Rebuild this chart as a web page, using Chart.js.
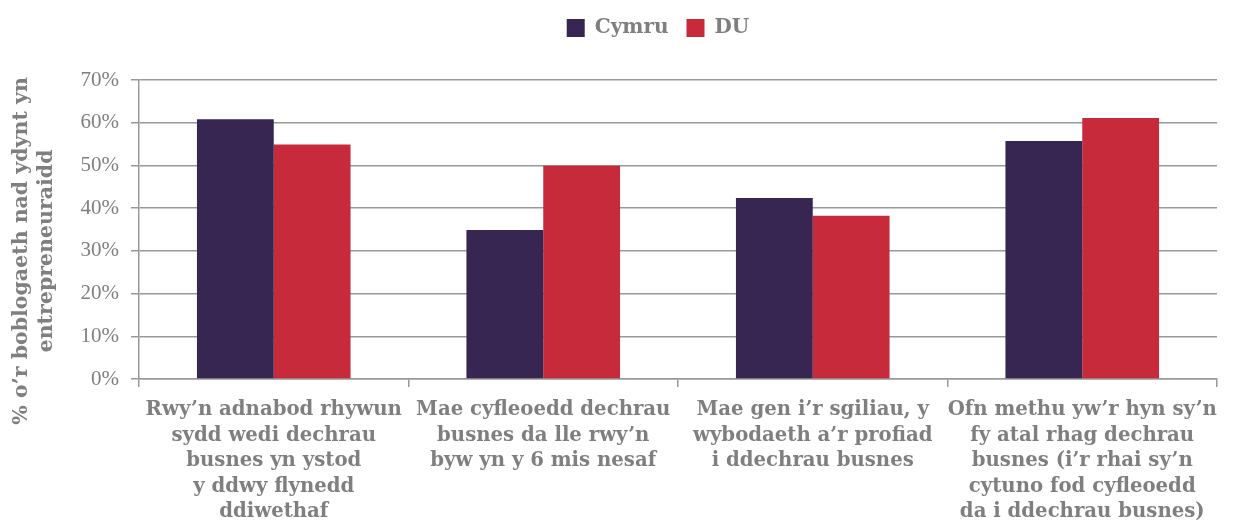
<!DOCTYPE html>
<html lang="cy">
<head>
  <meta charset="UTF-8">
  <title>Cymru v DU</title>
  <script src="https://cdn.jsdelivr.net/npm/chart.js"></script>
  <style>
    html, body { margin: 0; padding: 0; background: #fff; }
    #wrap { width: 1237px; height: 525px; position: relative; }
  </style>
</head>
<body>
  <div id="wrap"><canvas id="barChart"></canvas></div>

  <script>
  // categories (each one split into its lines)
  const categories = [
    ["Rwy\u2019n adnabod rhywun", "sydd wedi dechrau", "busnes yn ystod", "y ddwy flynedd", "ddiwethaf"],
    ["Mae cyfleoedd dechrau", "busnes da lle rwy\u2019n", "byw yn y 6 mis nesaf"],
    ["Mae gen i\u2019r sgiliau, y", "wybodaeth a\u2019r profiad", "i ddechrau busnes"],
    ["Ofn methu yw\u2019r hyn sy\u2019n", "fy atal rhag dechrau", "busnes (i\u2019r rhai sy\u2019n", "cytuno fod cyfleoedd", "da i ddechrau busnes)"]
  ];
  const cymru = [60.8, 34.9, 42.4, 55.7];
  const du = [54.9, 49.9, 38.2, 61.1];
  // trailing spaces nudge the rotated title down a little, as in the original
  const yTitle = ["% o\u2019r boblogaeth nad ydynt yn      ", "entrepreneuraidd      "];

  const grey = '#999999';
  const textGrey = '#7f7f7f';
  const slab = "'DejaVu Serif', serif";
  const serif = "'Liberation Serif', serif";

  // extra room under the legend, and the legend sits a bit right of centre
  const legendTweak = {
    id: 'legendTweak',
    beforeInit(chart) {
      const fit = chart.legend.fit;
      chart.legend.fit = function () {
        fit.bind(chart.legend)();
        this.height += 32;
      };
    },
    afterLayout(chart) {
      chart.legend.left += 92;
    }
  };

  new Chart(document.getElementById('barChart'), {
    type: 'bar',
    data: {
      labels: categories,
      datasets: [
        { label: 'Cymru', data: cymru, backgroundColor: '#372552', borderWidth: 0 },
        { label: 'DU', data: du, backgroundColor: '#c72a3a', borderWidth: 0 }
      ]
    },
    options: {
      responsive: true,
      maintainAspectRatio: false,
      animation: false,
      layout: { padding: { left: 7, right: 20, top: 0, bottom: 0 } },
      datasets: { bar: { categoryPercentage: 0.57, barPercentage: 1.0 } },
      plugins: {
        tooltip: { enabled: false },
        legend: {
          position: 'top',
          labels: {
            boxWidth: 18, boxHeight: 18, padding: 18,
            color: textGrey,
            font: { family: slab, size: 20, weight: 'bold' }
          }
        }
      },
      scales: {
        x: {
          grid: {
            offset: true,
            drawTicks: true,
            tickLength: 8,
            lineWidth: 1.5,
            color: (ctx) => ctx.index === categories.length ? grey : 'rgba(0,0,0,0)',
            tickColor: grey
          },
          border: { color: grey, width: 1.5 },
          ticks: {
            color: textGrey,
            maxRotation: 0,
            autoSkip: false,
            padding: 10,
            font: { family: slab, size: 19.7, weight: 'bold', lineHeight: 1.3 }
          },
          afterFit(s) { s.height = 146; }
        },
        y: {
          min: 0, max: 70,
          grid: { color: grey, lineWidth: 1.5, tickLength: 8, tickColor: grey },
          border: { color: grey, width: 1.5 },
          ticks: {
            stepSize: 10,
            padding: 12,
            color: textGrey,
            font: { family: serif, size: 21 },
            callback: (v) => v + '%'
          },
          title: {
            display: true,
            text: yTitle,
            color: textGrey,
            padding: { top: 2, bottom: 0 },
            font: { family: slab, size: 20.5, weight: 'bold', lineHeight: 1.22 }
          },
          afterFit(s) { s.width = 132; }
        }
      }
    },
    plugins: [legendTweak]
  });
  </script>
</body>
</html>
